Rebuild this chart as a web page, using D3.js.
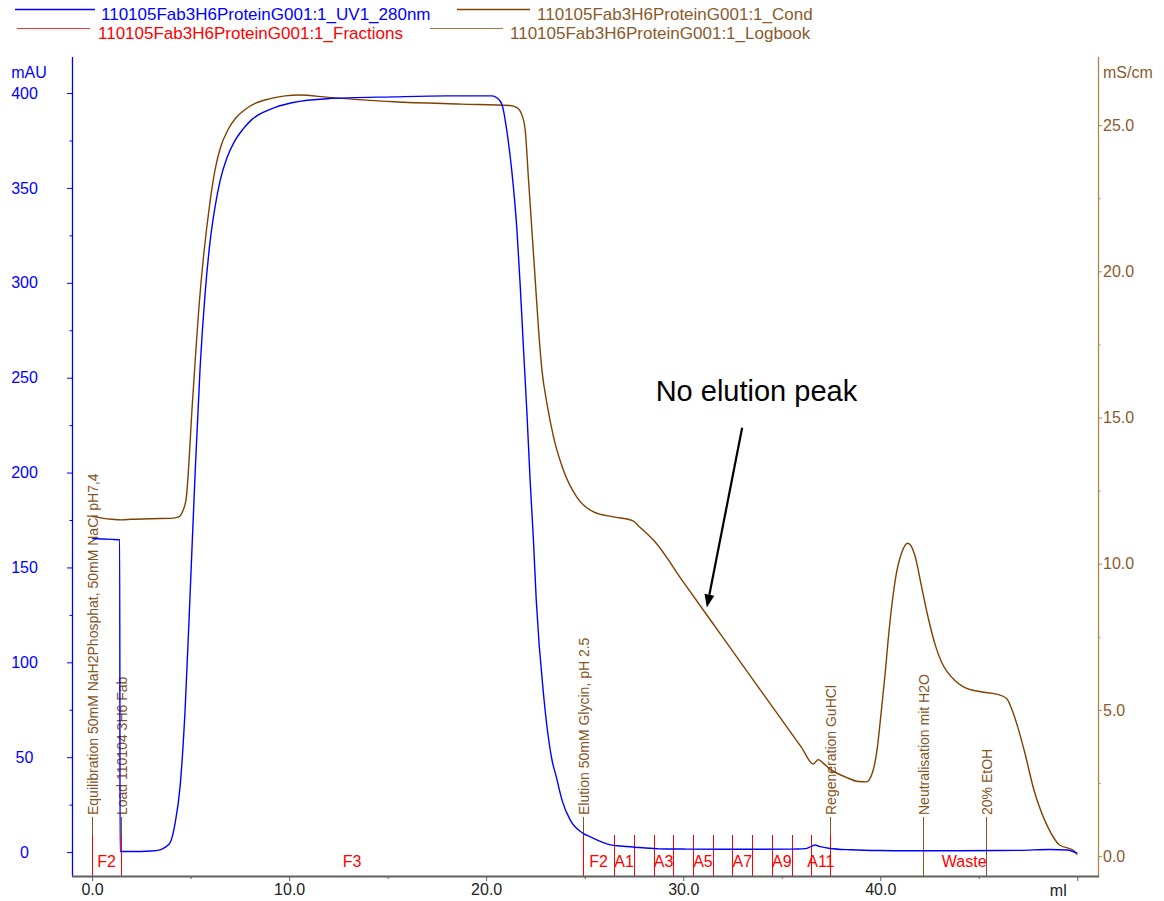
<!DOCTYPE html>
<html>
<head>
<meta charset="utf-8">
<script src="https://cdn.jsdelivr.net/npm/d3@7"></script>
<style>
  html, body { margin: 0; padding: 0; background: #fff; }
  svg { display: block; font-family: "Liberation Sans", Arial, sans-serif; }
</style>
</head>
<body>
<script>
// ---- Run data: 110105Fab3H6ProteinG001 ----
// UV 280 nm absorbance [ml, mAU]
const uvData = [
  [0, 165.2], [0.5, 165], [1.0, 164.8], [1.40, 164.6], [1.42, 0.3], [2.0, 0.3], [3.0, 0.6],
  [3.45, 1.2], [3.7, 2.5], [3.96, 5], [4.21, 15], [4.47, 35], [4.72, 75], [4.97, 135],
  [5.23, 200], [5.48, 255], [5.74, 295], [5.99, 322], [6.24, 340], [6.5, 354], [6.85, 366],
  [7.2, 374], [7.66, 381], [8.1, 386], [8.53, 389], [9.3, 392.5], [10.2, 395], [11.93, 397],
  [15.28, 398], [18.0, 398.5], [20.3, 398.5],
  [20.54, 397.5], [20.8, 394], [21.05, 380], [21.3, 359], [21.56, 328], [21.73, 298],
  [21.89, 266], [22.07, 231], [22.23, 196], [22.4, 164], [22.54, 133], [22.94, 80],
  [23.35, 48], [23.55, 40], [23.86, 27], [24.26, 17], [24.9, 10], [25.28, 8], [26.3, 3.8],
  [26.8, 3.2], [27.8, 2.4], [28.8, 1.7], [30, 1.6], [32, 1.5], [34, 1.5], [35.8, 1.6],
  [36.2, 1.8], [36.5, 3.0], [36.7, 3.7], [36.9, 3.0], [37.46, 1.9], [38.5, 1.2], [40, 0.8],
  [42, 0.7], [44, 0.7], [46, 0.8], [47.1, 0.9], [48.6, 1.4], [49.5, 1.1], [50, -0.7]
];

// Conductivity [ml, mS/cm]
const condData = [
  [0, 11.62], [0.5, 11.56], [1.0, 11.52], [1.5, 11.5], [2.0, 11.52], [3.0, 11.54], [4.0, 11.55],
  [4.4, 11.6], [4.6, 11.8], [4.77, 12.2], [5.1, 15.6], [5.45, 19.0], [5.99, 22.4], [6.25, 23.5],
  [6.5, 24.2], [6.9, 24.85], [7.3, 25.25], [7.8, 25.55], [8.3, 25.75], [9.0, 25.9], [9.8, 26.0],
  [10.5, 26.03], [12.0, 25.95],
  [15.3, 25.8], [18.7, 25.72], [21.2, 25.67], [21.56, 25.6], [21.81, 25.35], [21.98, 24.83],
  [22.15, 23.12], [22.32, 21.41], [22.49, 19.7], [22.66, 17.99], [22.83, 16.62], [23.08, 15.49],
  [23.42, 14.33], [23.92, 13.2], [24.6, 12.28], [25.45, 11.77], [26.46, 11.6], [27.4, 11.48],
  [27.8, 11.25], [28.5, 10.8], [30, 9.38], [32, 7.49], [34, 5.6], [36, 3.72], [36.6, 3.15],
  [36.85, 3.3], [37.1, 3.18], [37.4, 3.0], [38.25, 2.7], [38.9, 2.55], [39.3, 2.54],
  [39.6, 2.85], [39.85, 3.7], [39.99, 4.55], [40.25, 6.26], [40.4, 7.39], [40.8, 9.6],
  [41.1, 10.4], [41.4, 10.7], [41.75, 10.3], [42.1, 9.2], [42.45, 8.1], [42.8, 7.2],
  [43.1, 6.65], [43.4, 6.3], [43.8, 6.0], [44.2, 5.8], [45.1, 5.62], [45.9, 5.54], [46.4, 5.4],
  [46.75, 4.89], [47.3, 3.63], [47.8, 2.26], [48.5, 1.0], [49.1, 0.38], [49.8, 0.2], [50.0, 0.05]
];

// Fraction marks: start volume (ml) and fraction name
const fractionStarts = [0, 1.48, 24.9, 26.5, 27.5, 28.5, 29.5, 30.5, 31.5, 32.5, 33.5, 34.5, 35.5, 36.5, 37.47];
const fractionNames  = ["F2", "F3", "F2", "A1", "A2", "A3", "A4", "A5", "A6", "A7", "A8", "A9", "A10", "A11", "Waste"];

// Logbook events
const logbookVolumes = [0.0, 1.48, 24.9, 37.47, 42.18, 45.38];
const logbookTexts = [
  "Equilibration 50mM NaH2Phosphat, 50mM NaCl pH7,4",
  "Load 110104 3H6 Fab",
  "Elution 50mM Glycin, pH 2.5",
  "Regeneration GuHCl",
  "Neutralisation mit H2O",
  "20% EtOH"
];

// Axis ticks
const volumeTicks = [0, 10, 20, 30, 40, 50];
const volumeMinorTicks = [5, 15, 25, 35, 45];
const uvTicks = [0, 50, 100, 150, 200, 250, 300, 350, 400];
const uvMinorTicks = [25, 75, 125, 175, 225, 275, 325, 375];
const condTicks = [0, 5, 10, 15, 20, 25];
const condMinorTicks = [2.5, 7.5, 12.5, 17.5, 22.5];

// Legend
const legendNames = [
  "110105Fab3H6ProteinG001:1_UV1_280nm",
  "110105Fab3H6ProteinG001:1_Cond",
  "110105Fab3H6ProteinG001:1_Fractions",
  "110105Fab3H6ProteinG001:1_Logbook"
];

// Annotation
const noteText = "No elution peak";
const notePos = [28.6, 15.55];     // [ml, mS/cm] text baseline start
const noteArrowFrom = [32.99, 14.65];
const noteArrowTo = [31.2, 8.5];

// ---- Styles ----
const C = {
  uv: "#0000ff",
  cond: "#804000",
  condText: "#8b5a2b",
  condAxis: "#b3844f",
  frac: "#ff0000",
  log: "#86541e",
  axis: "#606060"
};

const W = 1164, H = 901;
const svg = d3.select("body").append("svg").attr("width", W).attr("height", H);

const x = d3.scaleLinear().domain([-1.02, 51.05]).range([72, 1098]);
const yL = d3.scaleLinear().domain([-12.6, 419]).range([876, 57]);
const yR = d3.scaleLinear().domain([-0.68, 27.33]).range([876, 57]);

// ---- Logbook markers (drawn underneath fractions) ----
const logG = svg.append("g");
logbookVolumes.forEach((v, i) => {
  const lx = Math.round(x(v)) + 0.5;
  logG.append("line")
    .attr("x1", lx).attr("x2", lx).attr("y1", 817).attr("y2", 876)
    .attr("stroke", C.log).attr("stroke-width", 1);
  logG.append("text")
    .attr("transform", `translate(${lx},815) rotate(-90)`)
    .attr("dy", "0.36em")
    .attr("font-size", 14)
    .attr("fill", C.log)
    .text(logbookTexts[i]);
});

// ---- Fractions ----
const fracG = svg.append("g");
fractionStarts.forEach((v, i) => {
  const fx = Math.round(x(v)) + 0.5;
  fracG.append("line")
    .attr("x1", fx).attr("x2", fx).attr("y1", 835).attr("y2", 876)
    .attr("stroke", C.frac).attr("stroke-width", 1);
  const end = i + 1 < fractionStarts.length ? fractionStarts[i + 1] : x.domain()[1];
  const name = fractionNames[i];
  // even-numbered A fractions are too narrow to carry a label
  if (/^A\d*[02468]$/.test(name)) return;
  fracG.append("text")
    .attr("x", (x(v) + x(end)) / 2)
    .attr("y", 867)
    .attr("text-anchor", "middle")
    .attr("font-size", 16)
    .attr("fill", C.frac)
    .text(name);
});

// ---- Curves ----
const lineUV = d3.line().x(d => x(d[0])).y(d => yL(d[1])).curve(d3.curveMonotoneX);
const lineCond = d3.line().x(d => x(d[0])).y(d => yR(d[1])).curve(d3.curveMonotoneX);

svg.append("path").datum(condData)
  .attr("d", lineCond).attr("fill", "none")
  .attr("stroke", C.cond).attr("stroke-width", 1.4);
svg.append("path").datum(uvData)
  .attr("d", lineUV).attr("fill", "none")
  .attr("stroke", C.uv).attr("stroke-width", 1.4);

// ---- Axes ----
// Left (UV)
const axL = svg.append("g").attr("transform", "translate(72,0)")
  .call(d3.axisLeft(yL).tickValues(uvTicks).tickSize(5).tickSizeOuter(0).tickFormat(d3.format("d")));
axL.select(".domain").remove();
axL.selectAll(".tick line").attr("stroke", C.uv);
axL.selectAll(".tick text")
  .attr("x", -47.5).attr("text-anchor", "middle")
  .attr("fill", C.uv).attr("font-size", 16)
  .attr("font-family", "Liberation Sans, Arial, sans-serif");
const axLm = svg.append("g").attr("transform", "translate(72,0)")
  .call(d3.axisLeft(yL).tickValues(uvMinorTicks).tickSize(2.5).tickFormat(""));
axLm.select(".domain").remove();
axLm.selectAll(".tick line").attr("stroke", C.uv);
svg.append("line").attr("x1", 72.5).attr("x2", 72.5).attr("y1", 57).attr("y2", 876)
  .attr("stroke", C.uv).attr("stroke-width", 1.3);
svg.append("text").attr("x", 29).attr("y", 78).attr("text-anchor", "middle")
  .attr("font-size", 16).attr("fill", C.uv).text("mAU");

// Right (conductivity)
const axR = svg.append("g").attr("transform", "translate(1098,0)")
  .call(d3.axisRight(yR).tickValues(condTicks).tickSize(4).tickPadding(1).tickSizeOuter(0).tickFormat(d3.format(".1f")));
axR.select(".domain").remove();
axR.selectAll(".tick line").attr("stroke", C.condAxis);
axR.selectAll(".tick text").attr("fill", C.condText).attr("font-size", 16)
  .attr("font-family", "Liberation Sans, Arial, sans-serif");
const axRm = svg.append("g").attr("transform", "translate(1098,0)")
  .call(d3.axisRight(yR).tickValues(condMinorTicks).tickSize(2.5).tickFormat(""));
axRm.select(".domain").remove();
axRm.selectAll(".tick line").attr("stroke", C.condAxis);
svg.append("line").attr("x1", 1098.5).attr("x2", 1098.5).attr("y1", 57).attr("y2", 876)
  .attr("stroke", C.condAxis).attr("stroke-width", 1.3);
svg.append("text").attr("x", 1103).attr("y", 78)
  .attr("font-size", 16).attr("fill", C.condText).text("mS/cm");

// Bottom (volume)
const axB = svg.append("g").attr("transform", "translate(0,876)")
  .call(d3.axisBottom(x).tickValues(volumeTicks).tickSize(5).tickPadding(3).tickSizeOuter(0)
    .tickFormat(d => d === 50 ? "" : d3.format(".1f")(d)));
axB.select(".domain").remove();
axB.selectAll(".tick line").attr("stroke", C.axis);
axB.selectAll(".tick text").attr("fill", "#222").attr("font-size", 16)
  .attr("font-family", "Liberation Sans, Arial, sans-serif");
const axBm = svg.append("g").attr("transform", "translate(0,876)")
  .call(d3.axisBottom(x).tickValues(volumeMinorTicks).tickSize(3).tickFormat(""));
axBm.select(".domain").remove();
axBm.selectAll(".tick line").attr("stroke", C.axis);
svg.append("line").attr("x1", 72).attr("x2", 1099).attr("y1", 876.5).attr("y2", 876.5)
  .attr("stroke", C.axis).attr("stroke-width", 2);
svg.append("text").attr("x", x(50) - 19).attr("y", 895.5).attr("text-anchor", "middle")
  .attr("font-size", 16).attr("fill", "#222").text("ml");

// ---- Legend ----
const legendItems = [
  { name: legendNames[0], color: C.uv, text: C.uv, lx: [15, 95], tx: 101, y: 20, lw: 1.3 },
  { name: legendNames[1], color: C.cond, text: C.condText, lx: [457, 530], tx: 537, y: 20, lw: 1.3 },
  { name: legendNames[2], color: C.frac, text: C.frac, lx: [17, 90], tx: 98, y: 39, lw: 0.8 },
  { name: legendNames[3], color: C.log, text: C.condText, lx: [430, 503], tx: 510, y: 39, lw: 0.8 }
];
const lg = svg.append("g");
legendItems.forEach(it => {
  lg.append("line").attr("x1", it.lx[0]).attr("x2", it.lx[1])
    .attr("y1", it.y - 10.5).attr("y2", it.y - 10.5)
    .attr("stroke", it.color).attr("stroke-width", it.lw);
  lg.append("text").attr("x", it.tx).attr("y", it.y)
    .attr("font-size", 17).attr("fill", it.text).text(it.name);
});

// ---- Annotation ----
svg.append("text").attr("x", x(notePos[0])).attr("y", yR(notePos[1]))
  .attr("font-size", 29).attr("fill", "#000").text(noteText);

const ax0 = x(noteArrowFrom[0]), ay0 = yR(noteArrowFrom[1]);
const ax1 = x(noteArrowTo[0]), ay1 = yR(noteArrowTo[1]);
const ang = Math.atan2(ay1 - ay0, ax1 - ax0);
const headLen = 13, headW = 5;
const bx = ax1 - headLen * Math.cos(ang), by = ay1 - headLen * Math.sin(ang);
svg.append("line").attr("x1", ax0).attr("y1", ay0).attr("x2", bx).attr("y2", by)
  .attr("stroke", "#000").attr("stroke-width", 2.2);
svg.append("path")
  .attr("d", `M${ax1},${ay1} L${bx + headW * Math.sin(ang)},${by - headW * Math.cos(ang)} L${bx - headW * Math.sin(ang)},${by + headW * Math.cos(ang)} Z`)
  .attr("fill", "#000");
</script>
</body>
</html>
